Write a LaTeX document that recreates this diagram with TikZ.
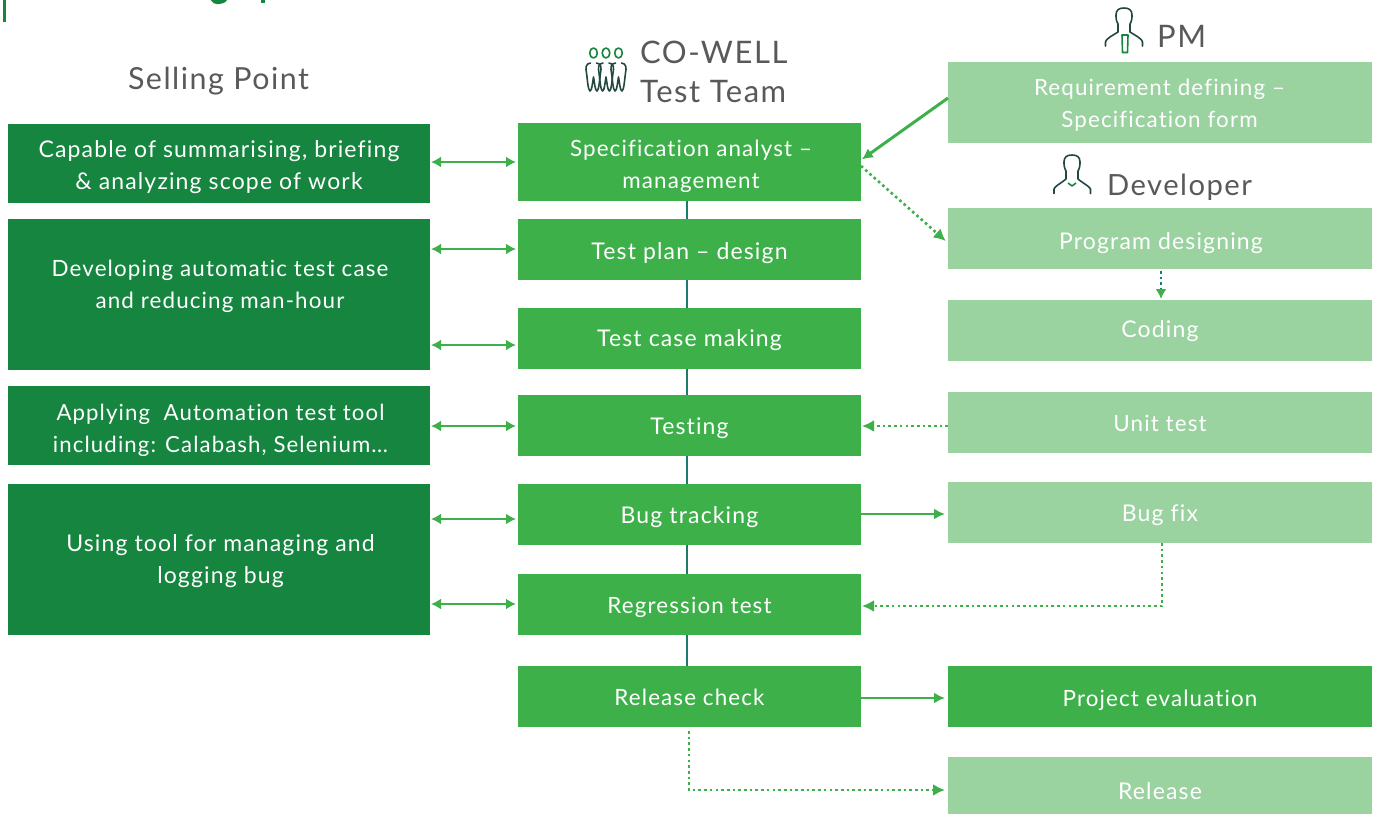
\documentclass[tikz,border=0pt]{standalone}
\usepackage{fontspec}
\setmainfont{Lato}[LetterSpace=5,Ligatures=NoCommon,RawFeature={-liga;-dlig;-clig}]
\usetikzlibrary{arrows.meta}
\definecolor{dk}{HTML}{15853F}
\definecolor{md}{HTML}{3DB04A}
\definecolor{lt}{HTML}{9AD2A0}
\definecolor{spine}{HTML}{1C7A70}
\definecolor{head}{HTML}{58595B}
\definecolor{ico}{HTML}{23483F}
\tikzset{
 x=1pt,y=-1pt,
 box/.style={anchor=north west,inner sep=0pt,outer sep=0pt},
 sell/.style={box,fill=dk,minimum width=422pt},
 proc/.style={box,fill=md,minimum width=343pt},
 side/.style={box,fill=lt,minimum width=424pt},
 txt/.style={inner sep=0pt,align=center,text=white,font=\fontsize{23}{32}\selectfont},
 txts/.style={inner sep=0pt,align=center,text=white,font=\fontsize{22.4}{32}\selectfont},
 heading/.style={text=head,inner sep=0pt,font=\fontsize{31}{40}\selectfont},
 conn/.style={draw=md,line width=2.8pt,-{Latex[length=11pt,width=11pt]},shorten >=3pt},
 both/.style={draw=md,line width=2.6pt,{Latex[length=10pt,width=11pt]}-{Latex[length=10pt,width=11pt]},shorten >=2pt,shorten <=1pt},
 dot/.style={draw=md,line width=2.6pt,dash pattern=on 2.6pt off 3.1pt,-{Latex[length=12pt,width=12pt]},shorten >=3pt},
 dotin/.style={dot,shorten >=1pt},
 spinel/.style={draw=spine,line width=2.8pt},
 icon/.style={draw=ico,line width=1.6pt,line join=round,line cap=round},
 iconb/.style={draw=dk,line width=1.6pt,line join=round},
}
\begin{document}
\begin{tikzpicture}
\useasboundingbox (0,0) rectangle (1377,814);
% clipped title remnants
\fill[dk] (3,0) rectangle (5.5,22);
\fill[dk] (210.5,0) .. controls (213,5.5) and (224,5.5) .. (227,0) -- cycle;
\fill[dk] (260.5,0) rectangle (265,3);

% spine first
\coordinate (sp1) at (687,201);
\coordinate (sp2) at (687,666);
\draw[spinel] (sp1) -- (sp2);

% left
\node[sell,minimum height=79pt] (s1) at (8,124) {};
\node[sell,minimum height=151pt] (s2) at (8,219) {};
\node[sell,minimum height=79pt] (s3) at (8,386) {};
\node[sell,minimum height=151pt] (s4) at (8,484) {};
\node[txt,yshift=-4pt] (s1t) at (s1.center) {Capable of summarising, briefing\\\& analyzing scope of work};
\node[txts] (s2t) at (220,286) {Developing automatic test case\\and reducing man-hour};
\node[txts,font=\fontsize{22.2}{32}\selectfont,yshift=-5pt] (s3t) at (220.5,425.5) {Applying\ \ Automation test tool\\including: Calabash, Selenium…};
\node[txt] (s4t) at (220.5,561) {Using tool for managing and\\logging bug};

% middle
\node[proc,minimum height=78pt] (p1) at (518,123) {};
\node[proc,minimum height=61pt] (p2) at (518,219) {};
\node[proc,minimum height=61pt] (p3) at (518,308) {};
\node[proc,minimum height=61pt] (p4) at (518,395) {};
\node[proc,minimum height=61pt] (p5) at (518,484) {};
\node[proc,minimum height=61pt] (p6) at (518,574) {};
\node[proc,minimum height=61pt] (p7) at (518,666) {};
\node[txts,yshift=-4pt] (p1t) at (691,162) {Specification analyst –\\management};
\node[txt,yshift=-4pt] (p2t) at (p2.center) {Test plan – design};
\node[txt,yshift=-2pt] (p3t) at (p3.center) {Test case making};
\node[txt,yshift=-3pt] (p4t) at (p4.center) {Testing};
\node[txt,yshift=-3pt] (p5t) at (p5.center) {Bug tracking};
\node[txts,yshift=-3pt] (p6t) at (p6.center) {Regression test};
\node[txts,yshift=-1pt] (p7t) at (p7.center) {Release check};

% right
\node[side,minimum height=81pt] (r1) at (948,62) {};
\node[side,minimum height=61pt] (r2) at (948,208) {};
\node[side,minimum height=61pt] (r3) at (948,300) {};
\node[side,minimum height=61pt] (r4) at (948,392) {};
\node[side,minimum height=61pt] (r5) at (948,482) {};
\node[box,fill=md,minimum width=424pt,minimum height=61pt] (r6) at (948,666) {};
\node[side,minimum height=57pt] (r7) at (948,757) {};
\node[txts,yshift=-2.5pt] (r1t) at (1159.5,102.5) {Requirement defining –\\Specification form};
\node[txt,yshift=-5pt] (r2t) at (1161,238.5) {Program designing};
\node[txt,yshift=-1pt] (r3t) at (r3.center) {Coding};
\node[txts,yshift=-1pt] (r4t) at (r4.center) {Unit test};
\node[txt,yshift=-3pt] (r5t) at (r5.center) {Bug fix};
\node[txts,yshift=-4pt] (r6t) at (r6.center) {Project evaluation};
\node[txt,yshift=-6pt] (r7t) at (r7.center) {Release};

% headings
\node[heading,font=\fontsize{30.4}{40}\selectfont] (h1) at (218.5,81) {Selling Point};
\node[heading,anchor=west] (h2) at (640,52) {CO-WELL};
\node[heading,anchor=west] (h3) at (640,92) {Test Team};
\node[heading,anchor=west] (h4) at (1157,36) {PM};
\node[heading,anchor=west,font=\fontsize{29.2}{40}\selectfont] (h5) at (1107,187) {Developer};

% icons
\foreach \cx in {593.5,606,618.5}{
  \draw[iconb] (\cx,53) ellipse (3.8 and 5);
  \draw[icon] (\cx-3,63) .. controls (\cx-8,63.5) and (\cx-8,68) .. (\cx-7,73) .. controls (\cx-6,80) and (\cx-5.5,90) .. (\cx-3.5,91) .. controls (\cx-1.5,91) and (\cx-1,82) .. (\cx,77) .. controls (\cx+1,82) and (\cx+1.5,91) .. (\cx+3.5,91) .. controls (\cx+5.5,90) and (\cx+6,80) .. (\cx+7,73) .. controls (\cx+8,68) and (\cx+8,63.5) .. (\cx+3,63);
}
\draw[icon] (1105.5,46) -- (1105.5,42) .. controls (1106,39) and (1110,37) .. (1118,32) -- (1118,24) .. controls (1116,21) and (1116,17) .. (1116,15) .. controls (1116,10) and (1119,8) .. (1124,8) .. controls (1129,8) and (1132,10) .. (1132,15) .. controls (1132,17) and (1132,21) .. (1130,24) -- (1130,32) .. controls (1138,37) and (1142,39) .. (1142.5,42) -- (1142.5,46);
\draw[iconb] (1122,35) -- (1128,35) -- (1127.5,52.5) -- (1122.5,52.5) -- cycle;
\draw[icon] (1054,193.5) -- (1054,189) .. controls (1055,186) and (1060,184) .. (1066,179) -- (1066,171) .. controls (1064,168) and (1064,164) .. (1064,162) .. controls (1064,157) and (1067,155) .. (1072,155) .. controls (1077,155) and (1080,157) .. (1080,162) .. controls (1080,164) and (1080,168) .. (1078,171) -- (1078,179) .. controls (1084,184) and (1089,186) .. (1090.5,189) -- (1090.5,193.5);
\draw[iconb] (1068,183) -- (1072,186) -- (1076,183);

% connectors
\draw[both] (s1.east |- 0,162) -- (p1.west |- 0,162);
\draw[both] (s2.east |- 0,249) -- (p2.west |- 0,249);
\draw[both] (s2.east |- 0,345) -- (p3.west |- 0,345);
\draw[both] (s3.east |- 0,426) -- (p4.west |- 0,426);
\draw[both] (s4.east |- 0,519) -- (p5.west |- 0,519);
\draw[both] (s4.east |- 0,604) -- (p6.west |- 0,604);
\draw[conn,line width=3pt,shorten >=1pt] (r1.west |- 0,98) -- (p1.east |- 0,160);
\draw[dot] (p1.east |- 0,166) -- (r2.west |- 0,243);
\draw[dot,draw=spine,-{Latex[length=10pt,width=11pt,color=md]},shorten >=1pt] ([yshift=-2pt]r2.south -| 1161,0) -- (r3.north -| 1161,0);
\draw[dotin] (r4.west |- 0,426) -- (p4.east |- 0,426);
\draw[conn] (p5.east |- 0,514) -- (r5.west |- 0,514);
\draw[dotin] (r5.south -| 1162,0) -- (1162,606) -- (p6.east |- 0,606);
\draw[conn] (p7.east |- 0,698) -- (r6.west |- 0,698);
\draw[dot] ([yshift=-4pt]p7.south -| 689,0) -- (689,790) -- (r7.west |- 0,790);
\end{tikzpicture}
\end{document}
